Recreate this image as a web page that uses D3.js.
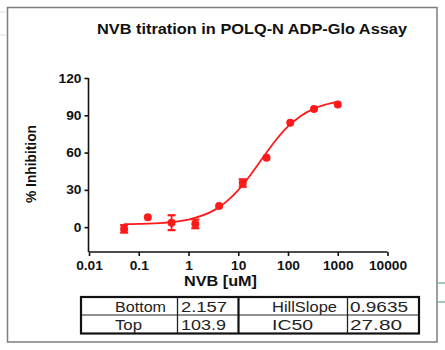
<!DOCTYPE html>
<html>
<head>
<meta charset="utf-8">
<script src="https://cdn.jsdelivr.net/npm/d3@7"></script>
<style>
  html, body { margin: 0; padding: 0; background: #ffffff; }
  svg { display: block; font-family: Arial, "Liberation Sans", sans-serif; }
</style>
</head>
<body>
<svg id="chart" width="445" height="350"></svg>
<script>
// ---------- data ----------
const title = "NVB titration in POLQ-N ADP-Glo Assay";
const xLabel = "NVB [uM]";
const yLabel = "% Inhibition";

// concentrations (uM), 3-fold dilution series
const conc = [0.0508, 0.152, 0.457, 1.37, 4.12, 12.3, 37.0, 111, 333, 1000];
// mean % inhibition
const inhibition = [-1.4, 8.0, 3.6, 2.6, 17.1, 35.5, 55.8, 84.0, 95.0, 98.7];
// error (SD)
const errors = [3.0, 0, 6.0, 3.5, 0, 3.0, 0, 0, 0, 0];

// fitted curve (log10 conc, % inhibition)
const curveLogX = [-1.3, -1.0, -0.5, 0.0, 0.5, 0.75, 1.0, 1.25, 1.5, 1.75, 2.0, 2.25, 2.5, 2.75, 3.0];
const curveY    = [2.4, 2.6, 3.5, 6.1, 13.3, 20.1, 29.8, 42.2, 56.2, 69.7, 81.0, 89.3, 95.0, 98.6, 100.8];

const xTicks = [0.01, 0.1, 1, 10, 100, 1000, 10000];
const xTickLabels = ["0.01", "0.1", "1", "10", "100", "1000", "10000"];
const yTicks = [0, 30, 60, 90, 120];
const yTickLabels = ["0", "30", "60", "90", "120"];

const tableRow1 = ["Bottom", "2.157", "HillSlope", "0.9635"];
const tableRow2 = ["Top", "103.9", "IC50", "27.80"];

// ---------- layout ----------
const red = "#ff1a1a";
const svg = d3.select("#chart");

// faint spreadsheet artefacts outside the frame
const g0 = svg.append("g");
[283, 302].forEach(y => g0.append("line").attr("x1", 438).attr("x2", 445).attr("y1", y).attr("y2", y)
  .attr("stroke", "#3a9a6a").attr("stroke-width", 1));
[12, 35].forEach(y => g0.append("line").attr("x1", 0).attr("x2", 6).attr("y1", y).attr("y2", y)
  .attr("stroke", "#dddddd").attr("stroke-width", 1));

// frame
svg.append("rect").attr("x", 7.5).attr("y", 7.5).attr("width", 429.5).attr("height", 334.5)
  .attr("fill", "#ffffff").attr("stroke", "#7d7d7d").attr("stroke-width", 1.5);

const x = d3.scaleLog().domain([0.01, 10000]).range([89, 387.5]);
const y = d3.scaleLinear().domain([-20, 120]).range([252, 78]);

// title
svg.append("text").attr("x", 252).attr("y", 33.5).attr("text-anchor", "middle")
  .attr("font-size", 14).attr("font-weight", "bold").attr("fill", "#111")
  .attr("textLength", 310).attr("lengthAdjust", "spacingAndGlyphs")
  .text(title);

// axes
const yAxis = d3.axisLeft(y).tickValues(yTicks).tickSize(4).tickSizeOuter(0).tickPadding(3)
  .tickFormat((d, i) => yTickLabels[i]);
const gy = svg.append("g").attr("transform", "translate(88.5,0)").call(yAxis);
const xAxis = d3.axisBottom(x).tickValues(xTicks).tickSize(4).tickSizeOuter(0).tickPadding(5)
  .tickFormat((d, i) => xTickLabels[i]);
const gx = svg.append("g").attr("transform", "translate(0,252)").call(xAxis);

[gx, gy].forEach(g => {
  g.select(".domain").attr("stroke", "#111").attr("stroke-width", 1.6);
  g.selectAll(".tick line").attr("stroke", "#111").attr("stroke-width", 1.6);
  g.selectAll(".tick text").attr("fill", "#111").attr("font-size", 12.5).attr("font-weight", "bold")
    .attr("font-family", "Arial, 'Liberation Sans', sans-serif");
});
gy.select(".domain").attr("d", `M0,${y(-20)}V${y(120)}`);
gx.select(".domain").attr("d", `M${x(0.01)},0H${x(10000)}`);
// slight horizontal stretch of tick labels like the source image
[gx, gy].forEach(g => g.selectAll(".tick text").each(function () {
  const l = this.getComputedTextLength();
  d3.select(this).attr("textLength", l * 1.1).attr("lengthAdjust", "spacingAndGlyphs");
}));

// axis labels
svg.append("text").attr("x", 220.5).attr("y", 286).attr("text-anchor", "middle")
  .attr("font-size", 14).attr("font-weight", "bold").attr("fill", "#111")
  .attr("textLength", 73).attr("lengthAdjust", "spacingAndGlyphs").text(xLabel);
svg.append("text").attr("transform", "translate(36,164) rotate(-90)").attr("text-anchor", "middle")
  .attr("font-size", 14).attr("font-weight", "bold").attr("fill", "#111")
  .attr("textLength", 78).attr("lengthAdjust", "spacingAndGlyphs").text(yLabel);

// fitted curve
const curvePts = curveLogX.map((lx, i) => [Math.pow(10, lx), curveY[i]]);
svg.append("path").datum(curvePts)
  .attr("fill", "none").attr("stroke", red).attr("stroke-width", 1.8)
  .attr("d", d3.line().x(d => x(d[0])).y(d => y(d[1])).curve(d3.curveMonotoneX));

// data points with error bars
const pts = conc.map((c, i) => ({ c, v: inhibition[i], e: errors[i] }));
const gp = svg.append("g");
pts.filter(d => d.e > 0).forEach(d => {
  const cx = x(d.c), y1 = y(d.v + d.e), y2 = y(d.v - d.e);
  gp.append("line").attr("x1", cx).attr("x2", cx).attr("y1", y1).attr("y2", y2)
    .attr("stroke", red).attr("stroke-width", 1.8);
  [y1, y2].forEach(yy => gp.append("line").attr("x1", cx - 4).attr("x2", cx + 4)
    .attr("y1", yy).attr("y2", yy).attr("stroke", red).attr("stroke-width", 2.2));
});
gp.selectAll("circle").data(pts).join("circle")
  .attr("cx", d => x(d.c)).attr("cy", d => y(d.v)).attr("r", 4).attr("fill", red);

// parameter table
const tX = [81, 177.5, 238.5, 347.5, 419];
const tY = [297, 315, 333.5];
const textX = [115, 181, 272, 350];
const widths = [[51, 46, 65, 58], [27, 45, 41, 52]];
const gt = svg.append("g");
gt.append("line").attr("x1", tX[0]).attr("x2", tX[4]).attr("y1", tY[1]).attr("y2", tY[1])
  .attr("stroke", "#222").attr("stroke-width", 1);
[tX[1], tX[3]].forEach(xx => gt.append("line").attr("x1", xx).attr("x2", xx)
  .attr("y1", tY[0]).attr("y2", tY[2]).attr("stroke", "#222").attr("stroke-width", 1.3));
gt.append("line").attr("x1", tX[2]).attr("x2", tX[2]).attr("y1", tY[0]).attr("y2", tY[2])
  .attr("stroke", "#111").attr("stroke-width", 2.2);
gt.append("rect").attr("x", tX[0]).attr("y", tY[0]).attr("width", tX[4] - tX[0]).attr("height", tY[2] - tY[0])
  .attr("fill", "none").attr("stroke", "#111").attr("stroke-width", 2.2);
[tableRow1, tableRow2].forEach((row, r) => {
  row.forEach((t, c) => {
    gt.append("text").attr("x", textX[c]).attr("y", tY[r] + 15)
      .attr("font-size", 15).attr("fill", "#222")
      .attr("textLength", widths[r][c]).attr("lengthAdjust", "spacingAndGlyphs").text(t);
  });
});
</script>
</body>
</html>
